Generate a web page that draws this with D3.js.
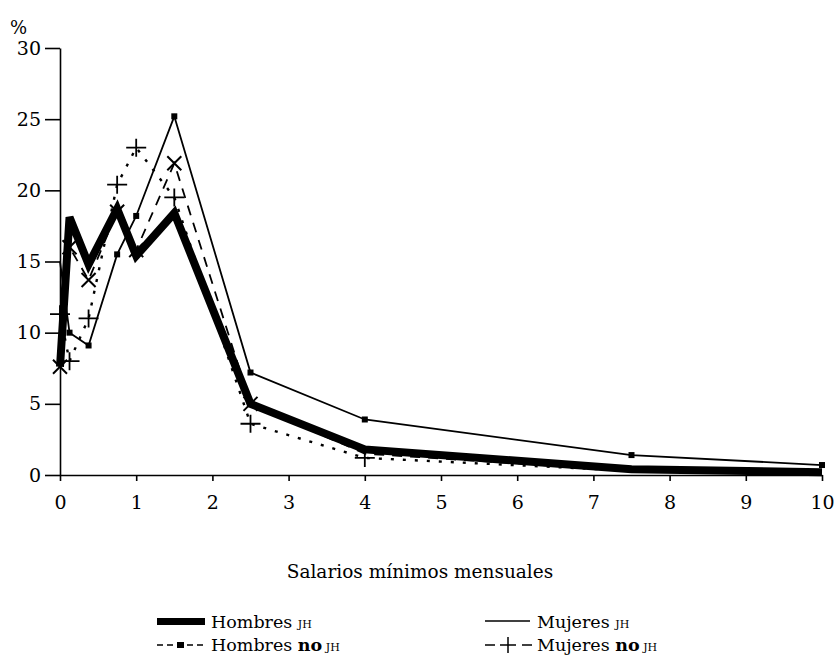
<!DOCTYPE html>
<html lang="es">
<head>
<meta charset="UTF-8">
<title>Salarios mínimos mensuales</title>
<script src="https://d3js.org/d3.v7.min.js"></script>
<style>
    body { margin: 0; background: #fff; }
    svg { display: block; }
    .axis path, .axis line { stroke: #000; stroke-width: 1.6; }
</style>
</head>
<body>
<svg id="chart" width="838" height="657" font-family="DejaVu Serif, Liberation Serif, serif"></svg>
<script>
    // salarios minimos (categorias en el eje x)
    const salarios = [0, 0.125, 0.375, 0.75, 1, 1.5, 2.5, 4, 7.5, 10];

    // porcentajes por serie
    const hombresJH   = [7.6, 18.1, 14.8, 18.7, 15.4, 18.4, 5.0, 1.8, 0.4, 0.2];
    const hombresNoJH = [15.0, 10.0, 9.1, 15.5, 18.2, 25.2, 7.2, 3.9, 1.4, 0.7];
    const mujeresJH   = [7.6, 16.0, 13.7, 18.5, 15.8, 21.9, 5.0, 1.5, 0.3, 0.1];
    const mujeresNoJH = [11.3, 8.0, 11.0, 20.4, 23.0, 19.5, 3.6, 1.2, 0.3, 0.1];

    const xTicks = [0, 1, 2, 3, 4, 5, 6, 7, 8, 9, 10];
    const yTicks = [0, 5, 10, 15, 20, 25, 30];

    const serif = "DejaVu Serif, Liberation Serif, serif";
    const svg = d3.select("#chart");

    const x = d3.scaleLinear().domain([0, 10]).range([60, 822]);
    const y = d3.scaleLinear().domain([0, 30]).range([475, 48]);

    // ejes
    svg.append("g")
        .attr("class", "axis")
        .attr("transform", "translate(60,0)")
        .call(d3.axisLeft(y).tickValues(yTicks).tickSize(15).tickSizeOuter(0).tickPadding(4))
        .attr("font-family", serif)
        .attr("font-size", 19);

    svg.append("g")
        .attr("class", "axis")
        .attr("transform", "translate(0,475)")
        .call(d3.axisBottom(x).tickValues(xTicks).tickSize(6).tickSizeOuter(0).tickPadding(15))
        .attr("font-family", serif)
        .attr("font-size", 19);

    svg.selectAll(".axis .domain").attr("stroke-width", 2);
    svg.selectAll(".axis text").attr("fill", "#000");

    svg.append("text")
        .attr("x", 10).attr("y", 34)
        .attr("font-size", 18)
        .text("%");

    svg.append("text")
        .attr("x", 420).attr("y", 578)
        .attr("text-anchor", "middle")
        .attr("font-size", 18.5)
        .text("Salarios mínimos mensuales");

    const line = d3.line()
        .x((d, i) => x(salarios[i]))
        .y(d => y(d));

    // Mujeres no JH: punteado con cruces
    svg.append("path")
        .datum(mujeresNoJH)
        .attr("d", line)
        .attr("fill", "none")
        .attr("stroke", "#000")
        .attr("stroke-width", 2.4)
        .attr("stroke-dasharray", "3,9");

    svg.selectAll(".mas")
        .data(mujeresNoJH.slice(0, 8))
        .enter()
        .append("path")
        .attr("class", "mas")
        .attr("d", (d, i) => {
            const cx = x(salarios[i]), cy = y(d);
            return `M${cx - 10},${cy}H${cx + 10}M${cx},${cy - 9}V${cy + 9}`;
        })
        .attr("stroke", "#000")
        .attr("stroke-width", 1.8);

    // Mujeres JH: trazos largos con aspas
    svg.append("path")
        .datum(mujeresJH)
        .attr("d", line)
        .attr("fill", "none")
        .attr("stroke", "#000")
        .attr("stroke-width", 1.8)
        .attr("stroke-dasharray", "10,8");

    svg.selectAll(".aspa")
        .data(mujeresJH.slice(0, 7))
        .enter()
        .append("path")
        .attr("class", "aspa")
        .attr("d", (d, i) => {
            const cx = x(salarios[i]), cy = y(d);
            return `M${cx - 7},${cy - 7}L${cx + 7},${cy + 7}M${cx - 7},${cy + 7}L${cx + 7},${cy - 7}`;
        })
        .attr("stroke", "#000")
        .attr("stroke-width", 2);

    // Hombres no JH: linea fina con cuadrados
    svg.append("path")
        .datum(hombresNoJH)
        .attr("d", line)
        .attr("fill", "none")
        .attr("stroke", "#000")
        .attr("stroke-width", 1.8);

    svg.selectAll(".cuadro")
        .data(hombresNoJH)
        .enter()
        .filter((d, i) => i > 0)
        .append("rect")
        .attr("class", "cuadro")
        .attr("x", (d, i) => x(salarios[i + 1]) - 3)
        .attr("y", d => y(d) - 3)
        .attr("width", 6)
        .attr("height", 6)
        .attr("fill", "#000");

    // Hombres JH: linea gruesa
    svg.append("path")
        .datum(hombresJH)
        .attr("d", line)
        .attr("fill", "none")
        .attr("stroke", "#000")
        .attr("stroke-width", 8)
        .attr("stroke-linejoin", "miter");

    // leyenda
    const leg = svg.append("g").attr("font-size", 17.5);

    leg.append("rect").attr("x", 157).attr("y", 618).attr("width", 48).attr("height", 7).attr("fill", "#000");
    const t1 = leg.append("text").attr("x", 211).attr("y", 628);
    t1.append("tspan").text("Hombres ");
    t1.append("tspan").attr("font-size", 11).text("JH");

    leg.append("line").attr("x1", 485).attr("x2", 530).attr("y1", 621).attr("y2", 621)
        .attr("stroke", "#000").attr("stroke-width", 1.5);
    const t2 = leg.append("text").attr("x", 537).attr("y", 628);
    t2.append("tspan").text("Mujeres ");
    t2.append("tspan").attr("font-size", 11).text("JH");

    leg.append("line").attr("x1", 157).attr("x2", 205).attr("y1", 645).attr("y2", 645)
        .attr("stroke", "#000").attr("stroke-width", 1.5).attr("stroke-dasharray", "6,4");
    leg.append("rect").attr("x", 177).attr("y", 642).attr("width", 7).attr("height", 6).attr("fill", "#000");
    const t3 = leg.append("text").attr("x", 211).attr("y", 651);
    t3.append("tspan").text("Hombres ");
    t3.append("tspan").attr("font-weight", "bold").text("no");
    t3.append("tspan").attr("font-size", 11).text(" JH");

    leg.append("line").attr("x1", 485).attr("x2", 495).attr("y1", 645).attr("y2", 645)
        .attr("stroke", "#000").attr("stroke-width", 1.5);
    leg.append("line").attr("x1", 522).attr("x2", 532).attr("y1", 645).attr("y2", 645)
        .attr("stroke", "#000").attr("stroke-width", 1.5);
    leg.append("path").attr("d", "M500,645H516M508,637V653").attr("stroke", "#000").attr("stroke-width", 1.5);
    const t4 = leg.append("text").attr("x", 537).attr("y", 651);
    t4.append("tspan").text("Mujeres ");
    t4.append("tspan").attr("font-weight", "bold").text("no");
    t4.append("tspan").attr("font-size", 11).text(" JH");
</script>
</body>
</html>
